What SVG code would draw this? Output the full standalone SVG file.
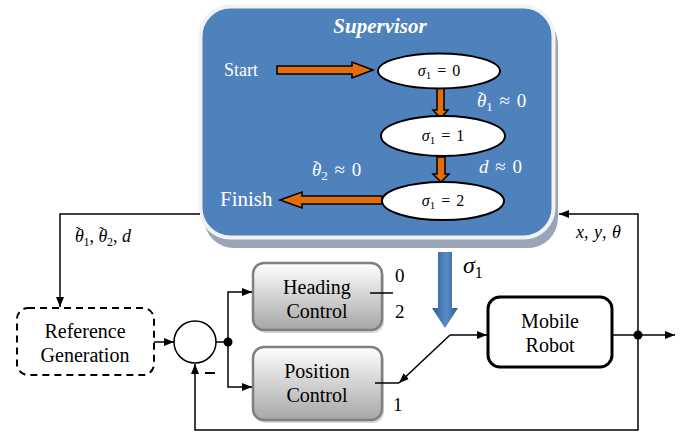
<svg xmlns="http://www.w3.org/2000/svg" width="689" height="434" viewBox="0 0 689 434" font-family="'Liberation Serif', 'Times New Roman', serif">
<style>
.lbl{fill:#000;text-anchor:middle;}
.wt{fill:#fff;}
.m{font-style:italic;}
.ln{fill:none;stroke:#000;stroke-width:1.5;}
.oa{fill:#E46C0A;stroke:#000;stroke-width:1.5;}
.ell{fill:#fff;stroke:#000;stroke-width:2;}
.ctl{fill:url(#gg);stroke:#7F7F7F;stroke-width:2.5;}
</style>
<defs>
<marker id="ah" viewBox="0 0 10 10" refX="10" refY="5" markerWidth="10" markerHeight="10" markerUnits="userSpaceOnUse" orient="auto">
<path d="M0,1 L10,5 L0,9 Z" fill="#000"/>
</marker>
<linearGradient id="gg" x1="0" y1="0" x2="0" y2="1">
<stop offset="0" stop-color="#FFFFFF"/>
<stop offset="1" stop-color="#A6A6A6"/>
</linearGradient>
<linearGradient id="bg" x1="0" y1="0" x2="1" y2="0">
<stop offset="0" stop-color="#2C5A8F"/>
<stop offset="0.55" stop-color="#5A8CC8"/>
<stop offset="1" stop-color="#2C5A8F"/>
</linearGradient>
</defs>

<g id="supervisor">
<rect x="204" y="14" width="354" height="234" rx="30" fill="#9AA6B8"/>
<rect x="200.5" y="6.5" width="353" height="231" rx="30" fill="#4F81BD" stroke="#F2F2F2" stroke-width="4"/>
<text x="380" y="33" font-size="21" font-weight="bold" font-style="italic" class="wt" text-anchor="middle">Supervisor</text>
<text x="224" y="76" font-size="18" class="wt">Start</text>
<text x="220" y="206" font-size="21" class="wt">Finish</text>
<path class="oa" d="M277,66 L352,66 L352,62 L373,70 L352,78 L352,74 L277,74 Z"/>
<path class="oa" d="M382,196 L302,196 L302,192 L280,200 L302,208 L302,204 L382,204 Z"/>
<path class="oa" d="M437,88 L444,88 L444,110 L448,110 L440.5,118 L433,110 L437,110 Z"/>
<path class="oa" d="M437,157 L445,157 L445,174 L449,174 L441,182 L433,174 L437,174 Z"/>
<g id="s0"><ellipse class="ell" cx="439" cy="71" rx="61" ry="17.5"/>
<text x="439" y="76" font-size="16" text-anchor="middle" word-spacing="2"><tspan class="m">σ</tspan><tspan font-size="11" dy="3">1</tspan><tspan dy="-3"> = 0</tspan></text></g>
<g id="s1"><ellipse class="ell" cx="443" cy="136" rx="62" ry="20"/>
<text x="443" y="141" font-size="16" text-anchor="middle" word-spacing="2"><tspan class="m">σ</tspan><tspan font-size="11" dy="3">1</tspan><tspan dy="-3"> = 1</tspan></text></g>
<g id="s2"><ellipse class="ell" cx="443" cy="201" rx="61" ry="19"/>
<text x="443" y="206" font-size="16" text-anchor="middle" word-spacing="2"><tspan class="m">σ</tspan><tspan font-size="11" dy="3">1</tspan><tspan dy="-3"> = 2</tspan></text></g>
<text x="477" y="107" class="wt" font-size="19" word-spacing="2"><tspan class="m">θ</tspan><tspan font-size="15" dx="-8" dy="-5">˜</tspan><tspan font-size="13" dx="3" dy="9">1</tspan><tspan dy="-4"> ≈ 0</tspan></text>
<text x="479" y="173" class="wt" font-size="19" word-spacing="2"><tspan class="m">d</tspan> ≈ 0</text>
<text x="312" y="176" class="wt" font-size="19" word-spacing="2"><tspan class="m">θ</tspan><tspan font-size="15" dx="-8" dy="-5">˜</tspan><tspan font-size="13" dx="3" dy="9">2</tspan><tspan dy="-4"> ≈ 0</tspan></text>
</g>

<g id="sigma-arrow">
<path d="M438,252 L452,252 L452,308 L458,308 L445,328 L432,308 L438,308 Z" fill="url(#bg)"/>
<text x="463" y="273" font-size="24"><tspan class="m">σ</tspan><tspan font-size="16" dy="5">1</tspan></text>
</g>

<g id="reference">
<rect x="17" y="308" width="137" height="67" rx="11" fill="#fff" stroke="#000" stroke-width="2" stroke-dasharray="7,5"/>
<text x="85" y="338" class="lbl" font-size="20">Reference</text>
<text x="85" y="362" class="lbl" font-size="20">Generation</text>
</g>

<g id="sum">
<circle cx="195" cy="342" r="21" fill="#fff" stroke="#000" stroke-width="1.5"/>
</g>

<g id="heading">
<rect x="255" y="266" width="129" height="67" rx="11" fill="#BFBFBF" opacity="0.6"/>
<rect x="253" y="263" width="129" height="67" rx="11" class="ctl"/>
<text x="317" y="294" class="lbl" font-size="20">Heading</text>
<text x="317" y="318" class="lbl" font-size="20">Control</text>
</g>

<g id="position">
<rect x="255" y="350" width="129" height="73" rx="11" fill="#BFBFBF" opacity="0.6"/>
<rect x="253" y="347" width="129" height="73" rx="11" class="ctl"/>
<text x="317" y="378" class="lbl" font-size="20">Position</text>
<text x="317" y="402" class="lbl" font-size="20">Control</text>
</g>

<g id="robot">
<rect x="488" y="297" width="124" height="70" rx="12" fill="#fff" stroke="#000" stroke-width="3"/>
<text x="550" y="328" class="lbl" font-size="20">Mobile</text>
<text x="550" y="352" class="lbl" font-size="20">Robot</text>
</g>

<g id="connectors">
<path class="ln" d="M200,214 L60,214 L60,307" marker-end="url(#ah)"/>
<text x="75" y="242" font-size="18"><tspan class="m">θ</tspan><tspan font-size="14" dx="-8" dy="-5">˜</tspan><tspan font-size="12" dx="3" dy="9">1</tspan><tspan dy="-4">, </tspan><tspan class="m">θ</tspan><tspan font-size="14" dx="-8" dy="-5">˜</tspan><tspan font-size="12" dx="3" dy="9">2</tspan><tspan dy="-4">, </tspan><tspan class="m">d</tspan></text>
<path class="ln" d="M154,342 L174,342" marker-end="url(#ah)"/>
<path class="ln" d="M216,342 L228,342"/>
<circle cx="228" cy="342" r="4.5" fill="#000"/>
<path class="ln" d="M228,342 L228,292 L252,292" marker-end="url(#ah)"/>
<path class="ln" d="M228,342 L228,387 L252,387" marker-end="url(#ah)"/>
<path class="ln" d="M370,293 L393,293"/>
<path class="ln" d="M375,383 L399,383"/>
<text x="395" y="282" font-size="19">0</text>
<text x="395" y="318" font-size="19">2</text>
<text x="393" y="411" font-size="19">1</text>
<path class="ln" d="M450,335 L399,383" marker-end="url(#ah)"/>
<path class="ln" d="M450,335 L487,335" marker-end="url(#ah)"/>
<path class="ln" d="M612,335 L675,335" marker-end="url(#ah)"/>
<circle cx="638" cy="335" r="4.5" fill="#000"/>
<path class="ln" d="M638,335 L638,214 L559,214" marker-end="url(#ah)"/>
<text x="576" y="238" font-size="18" word-spacing="1"><tspan class="m">x</tspan>, <tspan class="m">y</tspan>, <tspan class="m">θ</tspan></text>
<path class="ln" d="M638,335 L638,430 L195,430 L195,364" marker-end="url(#ah)"/>
<path d="M205,373 L215,373" stroke="#000" stroke-width="2"/>
</g>
</svg>
